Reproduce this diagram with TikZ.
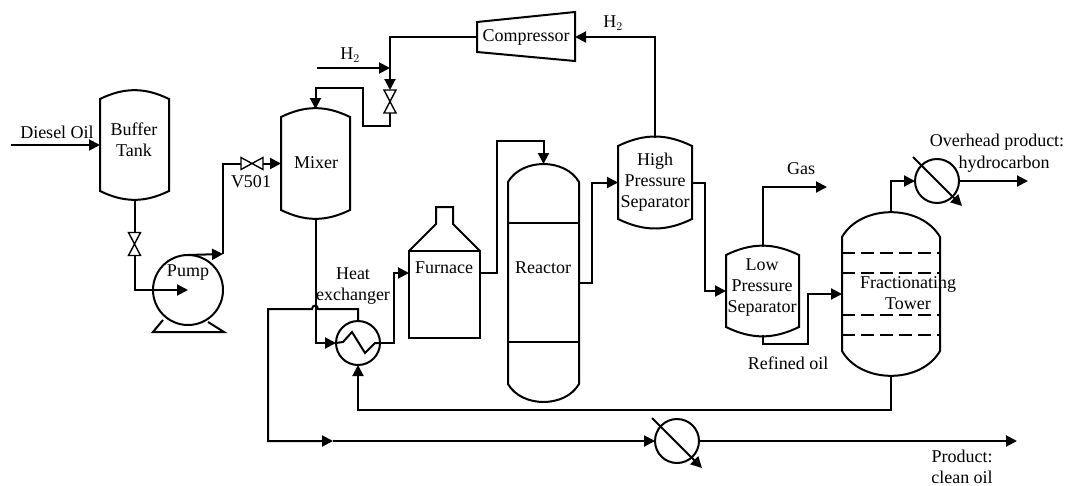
\documentclass[tikz,border=0pt]{standalone}
\usepackage{fontspec}
\setmainfont{Liberation Serif}
\usetikzlibrary{arrows.meta}

\tikzset{
  flow/.style={line width=2pt,-{Triangle[length=11pt,width=11pt]}},
  pipe/.style={line width=2pt},
  thinpipe/.style={line width=1.4pt},
  txt/.style={font=\fontsize{18}{21}\selectfont,align=center,inner sep=0pt,outer sep=0pt},
  % ancho, alto, flecha del casquete, angulo del casquete
  vessel/.style n args={4}{inner sep=0pt,outer sep=0pt,minimum width=#1,minimum height=#2,
    append after command={([yshift=-#3]\tikzlastnode.north west) to[bend left=#4]
      ([yshift=-#3]\tikzlastnode.north east) -- ([yshift=#3]\tikzlastnode.south east)
      to[bend left=#4] ([yshift=#3]\tikzlastnode.south west) -- cycle}},
  hvalve/.style={inner sep=0pt,outer sep=0pt,minimum width=22pt,minimum height=12pt,
    append after command={(\tikzlastnode.north west) -- (\tikzlastnode.south east)
      -- (\tikzlastnode.north east) -- (\tikzlastnode.south west) -- cycle}},
  vvalve/.style={inner sep=0pt,outer sep=0pt,minimum width=12pt,minimum height=23pt,
    append after command={(\tikzlastnode.north west) -- (\tikzlastnode.north east)
      -- (\tikzlastnode.south west) -- (\tikzlastnode.south east) -- cycle}},
  rotor/.style={draw,circle,inner sep=0pt,outer sep=0pt,minimum size=#1,line width=2pt}
}

\begin{document}
\begin{tikzpicture}[x=1pt,y=-1pt]
  \useasboundingbox (0,0) rectangle (1067,485);

  % Recipientes
  \draw[pipe] (134.5,145) node[vessel={69pt}{108pt}{8pt}{26}] (buffer) {};
  \draw[pipe] (315.5,163.5) node[vessel={69pt}{109pt}{8pt}{26}] (mixer) {};
  \draw[pipe] (655,182.5) node[vessel={74pt}{89pt}{8pt}{26}] (hpsep) {};
  \draw[pipe] (762.5,291) node[vessel={73pt}{88pt}{8pt}{26}] (lpsep) {};
  \draw[pipe] (543.5,283) node[vessel={71pt}{238pt}{18pt}{60}] (reactor) {};
  \draw[pipe] (891,294) node[vessel={98pt}{164pt}{25pt}{60}] (tower) {};

  % Separaciones internas
  \foreach \y in {223,342}{
    \draw[pipe] (508,\y) -- (579,\y);
  }
  \foreach \y in {253,273,315,335}{
    \draw[line width=1.5pt,dash pattern=on 13pt off 6pt] (842,\y) -- (940,\y);
  }

  % Horno y compresor
  \node[draw,line width=2pt,inner sep=0pt,outer sep=0pt,minimum width=71pt,minimum height=87pt]
    (furnace) at (444.5,294.5) {};
  \draw[pipe,line join=miter] (furnace.north west) -- (436,224) -- (436,207) -- (453,207) -- (453,224) -- (furnace.north east);
  \node[txt,minimum width=98pt] (compressor) at (526,37) {Compressor};
  \draw[pipe] (477,22) -- (575,12) -- (575,61) -- (477,52) -- cycle;

  % Bomba, intercambiadores
  \node[rotor=70pt] (pump) at (188,290) {};
  \draw[pipe] (163,320) -- (153,332) -- (224,332) -- (208,322);
  \node[rotor=44pt] (hx) at (358,343) {};
  \draw[pipe] (hx.west) -- (343,342) -- (352,332) -- (365,353) -- (375,343) -- (hx.east);
  \node[rotor=44pt] (condenser) at (937,181) {};
  \node[rotor=44pt] (cooler) at (677,441) {};

  % Valvulas
  \draw[thinpipe] (134.5,244) node[vvalve] (feedvalve) {};
  \draw[thinpipe] (252,163.5) node[hvalve] (v501) {};
  \draw[thinpipe] (390,101.5) node[vvalve] (h2valve) {};

  % Extremos libres
  \coordinate (dieselin) at (11,145);
  \coordinate (riser) at (223,254);
  \coordinate (h2in) at (317,68);
  \coordinate (h2join) at (390,68);
  \coordinate (furnacein) at (409,273);
  \coordinate (furnaceout) at (480,273);
  \coordinate (gasout) at (827,187);
  \coordinate (overhead) at (1028,181);
  \coordinate (midarrow) at (333,441);
  \coordinate (product) at (1017,441);

  % Tuberias
  \draw[flow] (dieselin) -- (buffer.west);
  \draw[pipe] (buffer.south) -- (feedvalve.north);
  \draw[flow] (feedvalve.south) |- (pump.center);
  \draw[flow] (pump.north) -- (riser);
  \draw[pipe] (riser) |- (v501.west);
  \draw[flow] (v501.east) -- (mixer.west);
  \draw[flow] (compressor.west) -| (h2valve.north);
  \draw[flow] (h2in) -- (h2join);
  \draw[flow] (h2valve.south) |- (363,126) |- (315.5,88) -- (mixer.north);
  \draw[flow] (hpsep.north) |- (compressor.east);
  \draw[flow] (mixer.south) |- (hx.west);
  \draw[flow] (hx.east) -| (394,273) -- (furnacein);
  \draw[flow] (furnaceout) -| (497,141) -| (reactor.north);
  \draw[flow] (reactor.east) -| (592,182.5) -- (hpsep.west);
  \draw[flow] (hpsep.east) -| (705,291) -- (lpsep.west);
  \draw[flow] (lpsep.north) |- (gasout);
  \draw[flow] (lpsep.south) |- (808,344) |- (tower.west);
  \draw[flow] (tower.north) |- (condenser.west);
  \draw[flow] (condenser.east) -- (overhead);
  \draw[flow] (tower.south) |- (358,410) -- (hx.south);
  \draw[flow] (hx.north) |- (318,309) .. controls (318,304.5) and (312,304.5) .. (312,309) -- (268,309) |- (midarrow);
  \draw[flow] (midarrow) -- (cooler.west);
  \draw[flow] (cooler.east) -- (product);

  % Flechas de refrigeracion
  \coordinate (condensera) at (913,157);
  \coordinate (condenserb) at (962,206);
  \coordinate (coolera) at (652,418);
  \coordinate (coolerb) at (702,468);
  \draw[flow] (condensera) -- (condenserb);
  \draw[flow] (coolera) -- (coolerb);

  % Textos
  \node[txt] (dieseltxt) at (57,132) {Diesel Oil};
  \node[txt] (buffertxt) at (134,139.5) {Buffer\\Tank};
  \node[txt] (pumptxt) at (188,273) {Pump};
  \node[txt] (v501txt) at (251,182) {V501};
  \node[txt] (mixertxt) at (316,163) {Mixer};
  \node[txt] (h2leftxt) at (350,55) {H$_2$};
  \node[txt] (h2rightxt) at (613,23) {H$_2$};
  \node[txt] (hxtxt) at (353,286.5) {Heat\\exchanger};
  \node[txt] (furnacetxt) at (444,268) {Furnace};
  \node[txt] (reactortxt) at (543,268) {Reactor};
  \node[txt] (hptxt) at (655,182) {High\\Pressure\\Separator};
  \node[txt] (lptxt) at (762,288) {Low\\Pressure\\Separator};
  \node[txt] (gastxt) at (801,169) {Gas};
  \node[txt] (refinedtxt) at (788,363) {Refined oil};
  \node[txt] (towertxt) at (908,293.5) {Fractionating\\Tower};
  \node[txt] (overheadtxt) at (997,142) {Overhead product:};
  \node[txt] (hydrotxt) at (1004,164) {hydrocarbon};
  \node[txt] (producttxt) at (962,466.5) {Product:\\clean oil};
\end{tikzpicture}
\end{document}
